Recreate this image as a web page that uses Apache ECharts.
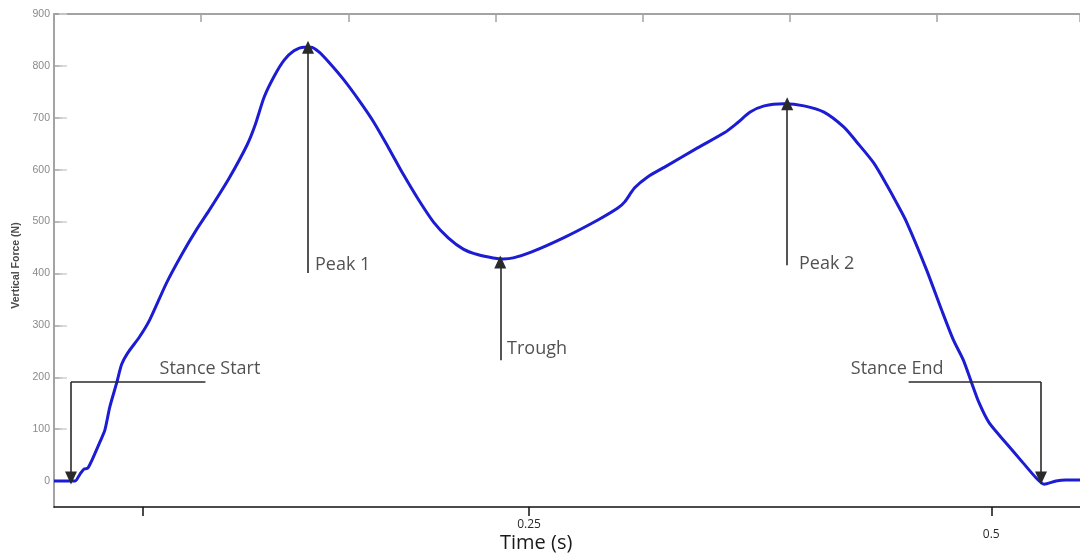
<!DOCTYPE html>
<html>
<head>
<meta charset="utf-8">
<script src="https://cdn.jsdelivr.net/npm/echarts@6/dist/echarts.min.js"></script>
<style>html,body{margin:0;padding:0;background:#fff}#c{width:1080px;height:558px}</style>
</head>
<body>
<div id="c"></div>
<script>
// ---- data (time in seconds, vertical force in N) ----
var timeS = [-0.0070,-0.0011,0.0043,0.0070,0.0092,0.0113,0.0135,0.0178,0.0205,0.0232,0.0269,0.0296,0.0329,0.0393,0.0447,0.0539,0.0625,0.0700,0.0770,0.0878,0.0975,0.1018,0.1067,0.1121,0.1175,0.1228,0.1282,0.1320,0.1363,0.1417,0.1498,0.1579,0.1659,0.1740,0.1821,0.1902,0.1983,0.2064,0.2144,0.2225,0.2306,0.2360,0.2414,0.2511,0.2694,0.2872,0.2980,0.3017,0.3071,0.3141,0.3233,0.3411,0.3556,0.3626,0.3696,0.3772,0.3879,0.3987,0.4095,0.4203,0.4273,0.4364,0.4450,0.4488,0.4542,0.4650,0.4731,0.4795,0.4849,0.4892,0.4935,0.4989,0.5081,0.5172,0.5243,0.5286,0.5350,0.5404,0.5480];
var forceN = [0,0,0,13,23,25,40,75,98,143,189,225,247,278,310,382,439,484,522,584,648,686,740,780,811,829,836,836,827,807,773,734,692,642,590,542,499,468,447,436,430,428,430,441,470,503,526,538,565,586,605,642,671,690,711,723,727,723,711,682,653,613,561,536,499,407,330,272,233,191,150,112,73,35,6,-6,0,2,2];

var yTicks = [0,100,200,300,400,500,600,700,800,900];
var xTickValues = [0.041,0.25,0.5];
var xLabelValues = [0.25,0.5];

// annotation arrows: [name, x1, y1, x2, y2, hasArrow]
var annoSegments = [
  ['Stance Start h', 0.0749, 191, 0.0022, 191, false],
  ['Stance Start v', 0.0022, 191, 0.0022, 6, true],
  ['Peak 1', 0.1304, 401, 0.1304, 836, true],
  ['Trough', 0.2344, 233, 0.2344, 422, true],
  ['Peak 2', 0.3896, 416, 0.3896, 727, true],
  ['Stance End h', 0.4553, 191, 0.5269, 191, false],
  ['Stance End v', 0.5269, 191, 0.5269, 6, true]
];
// annotation labels: [text, x, y]
var annoLabels = [
  ['Stance Start', 0.0501, 216],
  ['Peak 1', 0.1342, 416],
  ['Trough', 0.2381, 254],
  ['Peak 2', 0.3960, 418],
  ['Stance End', 0.4240, 216]
];

var lineData = timeS.map(function (t, i) { return [t, forceN[i]]; });
var markData = annoSegments.map(function (s) {
  return [
    { coord: [s[1], s[2]], symbol: 'none' },
    { coord: [s[3], s[4]], symbol: s[5] ? 'triangle' : 'none', symbolSize: [12, 13] }
  ];
});
var labelData = annoLabels.map(function (a) { return { name: a[0], value: [a[1], a[2]] }; });

var chart = echarts.init(document.getElementById('c'), null, { renderer: 'canvas' });
chart.setOption({
  animation: false,
  backgroundColor: '#fff',
  grid: { left: 54, right: -4, top: 14, bottom: 51, containLabel: false },
  xAxis: [{
    type: 'value', position: 'bottom', min: -0.007, max: 0.548,
    axisLine: { show: true, onZero: false, lineStyle: { color: '#111', width: 1.5 } },
    axisTick: { show: true, inside: false, length: 9, customValues: xTickValues, lineStyle: { color: '#111', width: 1.5 } },
    axisLabel: {
      show: true, margin: 12, customValues: xLabelValues,
      formatter: function (v) { return v === 0.5 ? '{b|0.5}' : '{a|' + v + '}'; },
      rich: {
        a: { fontFamily: 'Open Sans', fontSize: 12, color: '#2a2a2a' },
        b: { fontFamily: 'Open Sans', fontSize: 12, color: '#2a2a2a', padding: [10, 0, 0, 0] }
      }
    },
    splitLine: { show: false }
  }, {
    type: 'value', position: 'top', min: 0, max: 6.97, interval: 1,
    axisLine: { show: true, onZero: false, lineStyle: { color: '#a3a3a3', width: 2 } },
    axisTick: { show: true, inside: true, length: 8, lineStyle: { color: '#a3a3a3', width: 1.5 } },
    axisLabel: { show: false },
    splitLine: { show: false }
  }],
  yAxis: [{
    type: 'value', position: 'left', min: -50, max: 900,
    name: 'Vertical Force (N)', nameLocation: 'middle', nameGap: 31,
    nameTextStyle: { fontFamily: 'Liberation Sans', fontSize: 10.5, fontWeight: 'bold', color: '#4a4a4a', padding: [0, 10, 0, 0] },
    axisLine: { show: true, onZero: false, lineStyle: { color: '#a3a3a3', width: 2 } },
    axisTick: { show: true, inside: true, length: 8, customValues: yTicks, lineStyle: { color: '#a3a3a3', width: 1.5 } },
    axisLabel: { show: true, margin: 4, customValues: yTicks, fontFamily: 'Liberation Sans', fontSize: 10.5, color: '#8a8a8a' },
    splitLine: { show: false }
  }, {
    type: 'value', position: 'right', min: -50, max: 900,
    axisLine: { show: false },
    axisTick: { show: true, inside: true, length: 8, customValues: yTicks, lineStyle: { color: '#d0d0d0', width: 1.5 } },
    axisLabel: { show: false },
    splitLine: { show: false }
  }],
  graphic: [{
    type: 'text', left: 500, top: 533,
    style: { text: 'Time (s)', fontFamily: 'Open Sans', fontSize: 20, fill: '#1a1a1a' }
  }],
  series: [{
    type: 'line', xAxisIndex: 0, yAxisIndex: 0,
    data: lineData, showSymbol: false, symbol: 'none', smooth: 0.25,
    lineStyle: { color: '#1c1cd2', width: 3 },
    silent: true,
    markLine: {
      silent: true, animation: false,
      label: { show: false },
      lineStyle: { color: '#2a2a2a', width: 1.6, type: 'solid' },
      itemStyle: { color: '#111' },
      emphasis: { disabled: true },
      data: markData
    }
  }, {
    type: 'scatter', xAxisIndex: 0, yAxisIndex: 0,
    data: labelData, symbolSize: 0, silent: true,
    label: {
      show: true, position: 'right', distance: 0,
      formatter: function (p) { return p.name; },
      fontFamily: 'Open Sans', fontSize: 18, color: '#262626'
    }
  }]
});
</script>
</body>
</html>
